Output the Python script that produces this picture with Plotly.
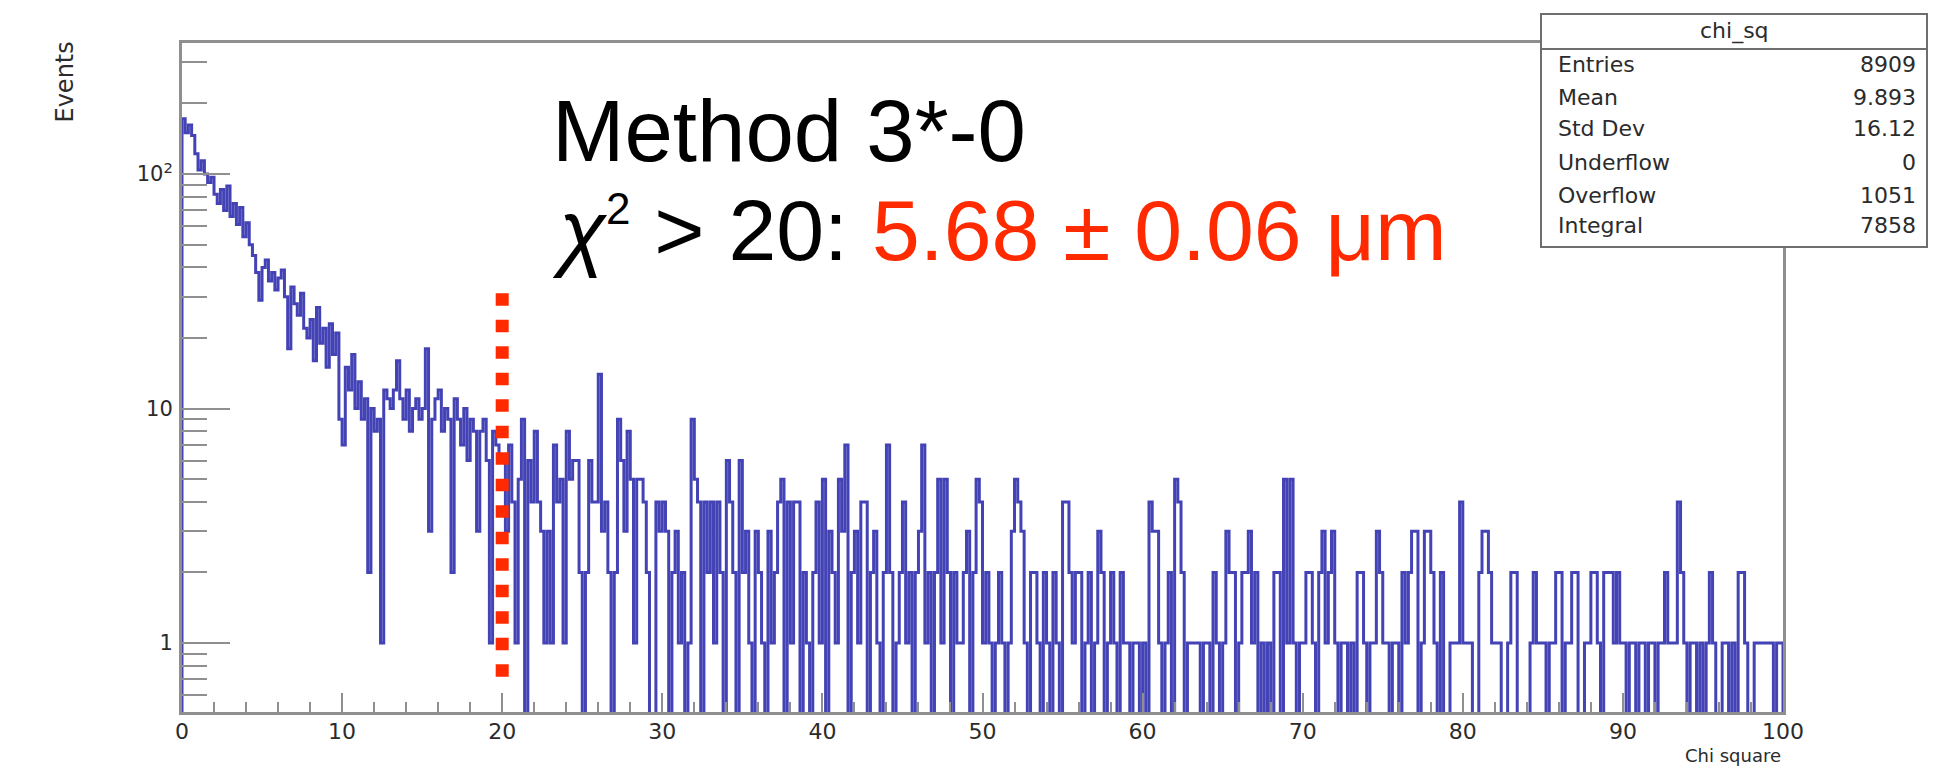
import plotly.graph_objects as go

# ---------------- data ----------------
bin_width = 0.2          # 500 bins between 0 and 100
x_start = 0.0

counts_00_10 = [172, 150, 162, 146, 122, 104, 114, 100, 92, 97,
                82, 75, 86, 70, 89, 66, 75, 61, 72, 54,
                62, 50, 45, 38, 29, 40, 43, 35, 38, 32,
                36, 39, 30, 18, 33, 28, 25, 31, 22, 20,
                24, 16, 27, 19, 22, 15, 23, 17, 21, 9]
counts_10_20 = [7, 15, 12, 17, 10, 13, 9, 11, 2, 10,
                8, 9, 1, 12, 11, 10, 12, 16, 11, 9,
                12, 8, 10, 11, 9, 10, 18, 3, 9, 11,
                12, 8, 10, 9, 2, 11, 9, 7, 10, 6,
                9, 8, 3, 8, 9, 6, 1, 8, 7, 6]
counts_20_30 = [6, 3, 7, 4, 1, 5, 9, 0, 6, 4,
                8, 4, 3, 1, 3, 1, 7, 4, 5, 1,
                8, 5, 6, 6, 2, 0, 2, 6, 4, 4,
                14, 3, 4, 2, 0, 2, 9, 6, 3, 8,
                5, 1, 5, 5, 4, 2, 0, 0, 4, 3]
counts_30_40 = [4, 3, 0, 2, 3, 1, 2, 0, 1, 9,
                5, 4, 0, 4, 2, 4, 1, 4, 2, 0,
                6, 4, 2, 0, 6, 2, 3, 1, 0, 3,
                2, 1, 0, 3, 1, 2, 4, 5, 0, 4,
                1, 4, 4, 0, 2, 1, 0, 2, 4, 1]
counts_40_50 = [5, 0, 3, 2, 1, 5, 3, 7, 0, 2,
                3, 1, 4, 4, 0, 2, 3, 1, 0, 2,
                7, 2, 0, 1, 2, 4, 1, 2, 0, 2,
                3, 7, 1, 2, 0, 2, 5, 1, 5, 2,
                0, 2, 1, 1, 2, 3, 0, 2, 5, 4]
counts_50_60 = [1, 2, 1, 0, 1, 2, 1, 0, 1, 3,
                5, 4, 3, 1, 0, 2, 2, 1, 0, 2,
                1, 0, 2, 1, 0, 4, 4, 2, 1, 2,
                2, 0, 1, 2, 0, 1, 3, 2, 0, 1,
                2, 1, 0, 2, 1, 1, 0, 1, 1, 0]
counts_60_70 = [1, 0, 4, 3, 3, 1, 0, 1, 2, 0,
                5, 4, 2, 0, 1, 1, 1, 1, 0, 1,
                1, 0, 2, 1, 0, 1, 3, 2, 2, 0,
                1, 2, 2, 3, 1, 2, 0, 1, 0, 1,
                0, 2, 2, 0, 5, 1, 5, 1, 0, 1]
counts_70_80 = [1, 2, 2, 1, 0, 2, 3, 1, 2, 3,
                1, 0, 1, 1, 0, 1, 0, 2, 2, 1,
                0, 1, 1, 3, 2, 1, 1, 0, 1, 1,
                0, 2, 1, 2, 3, 3, 0, 1, 3, 3,
                2, 1, 0, 2, 0, 0, 1, 1, 1, 4]
counts_80_90 = [1, 1, 1, 0, 0, 2, 3, 3, 2, 1,
                1, 1, 0, 0, 1, 2, 2, 0, 0, 0,
                0, 1, 2, 1, 1, 1, 0, 1, 1, 2,
                2, 0, 1, 1, 2, 2, 0, 0, 1, 1,
                2, 2, 1, 0, 2, 2, 2, 1, 2, 1]
counts_90_100 = [1, 0, 1, 1, 0, 1, 1, 0, 1, 1,
                 0, 1, 1, 2, 1, 1, 1, 4, 2, 1,
                 0, 1, 1, 0, 1, 0, 1, 2, 1, 0,
                 0, 1, 1, 0, 1, 0, 2, 2, 1, 0,
                 0, 1, 1, 1, 1, 1, 1, 0, 1, 1]

x_tick_values = [0, 10, 20, 30, 40, 50, 60, 70, 80, 90, 100]
y_tick_values = [1, 10, 100]
y_tick_labels = ["1", "10", "10<sup>2</sup>"]

cut_value = 20
cut_line_y = [31.0, 0.637]

stats_title = "chi_sq"
stats_names = ["Entries", "Mean", "Std Dev", "Underflow", "Overflow", "Integral"]
stats_values = ["8909", "9.893", "16.12", "0", "1051", "7858"]

# ---------------- build histogram outline ----------------
counts = (counts_00_10 + counts_10_20 + counts_20_30 + counts_30_40 + counts_40_50 +
          counts_50_60 + counts_60_70 + counts_70_80 + counts_80_90 + counts_90_100)
FLOOR = 0.1  # empty bins drawn down past the bottom of the log axis
xs = [x_start]
ys = [FLOOR]
for i, c in enumerate(counts):
    xs.append(round(x_start + i * bin_width, 4))
    ys.append(c if c > 0 else FLOOR)
xs.append(round(x_start + len(counts) * bin_width, 4))
ys.append(counts[-1] if counts[-1] > 0 else FLOOR)
xs.append(xs[-1])
ys.append(FLOOR)

W, H = 1942, 770
L, R, T, B = 182, 1783, 43, 712
def px(x):
    return (x - L) / (R - L)
def py(y):
    return (B - y) / (B - T)

ROOT_FONT = "DejaVu Sans"
TXT = "#2b2b2b"
AXC = "#8f8f8f"

fig = go.Figure()
fig.add_trace(go.Scatter(
    x=xs, y=ys, mode="lines",
    line=dict(color="rgba(14,14,160,0.78)", width=3.0, shape="hv"),
    hoverinfo="skip", showlegend=False))
fig.add_trace(go.Scatter(
    x=[cut_value, cut_value], y=cut_line_y, mode="lines",
    line=dict(color="#ff2a00", width=13, dash="12.5px,14px"),
    hoverinfo="skip", showlegend=False))

minor_y = [0.6, 0.7, 0.8, 0.9] + [k for k in range(2, 10)] + [10 * k for k in range(2, 10)] + [200, 300]

fig.update_layout(
    width=W, height=H, autosize=False,
    margin=dict(l=L, r=W - R, t=T, b=H - B, pad=0),
    paper_bgcolor="white", plot_bgcolor="white",
    font=dict(family=ROOT_FONT, size=22, color=TXT),
    showlegend=False,
    xaxis=dict(
        range=[0, 100], tickmode="array", tickvals=x_tick_values,
        ticks="inside", ticklen=19, tickwidth=2, tickcolor=AXC,
        minor=dict(dtick=2, tick0=0, ticks="inside", ticklen=10, tickwidth=2, tickcolor=AXC),
        showline=True, linecolor=AXC, linewidth=3, mirror=True,
        showgrid=False, zeroline=False,
        tickfont=dict(family=ROOT_FONT, size=22, color=TXT),
        ticklabelstandoff=-2,
    ),
    yaxis=dict(
        type="log", range=[-0.294, 2.559],
        tickmode="array", tickvals=y_tick_values, ticktext=y_tick_labels,
        ticks="inside", ticklen=48, tickwidth=2, tickcolor=AXC,
        minor=dict(tickmode="array", tickvals=minor_y, ticks="inside",
                   ticklen=25, tickwidth=2, tickcolor=AXC),
        showline=True, linecolor=AXC, linewidth=3, mirror=True,
        showgrid=False, zeroline=False,
        tickfont=dict(family=ROOT_FONT, size=21, color=TXT),
        ticklabelstandoff=2,
    ),
)

# stats box
bx0, bx1, by0, by1, bhead = 1541, 1927, 14, 247, 49
fig.add_shape(type="rect", xref="paper", yref="paper",
              x0=px(bx0), x1=px(bx1), y0=py(by1), y1=py(by0),
              fillcolor="white", line=dict(color="#6e6e6e", width=2), layer="above")
fig.add_shape(type="line", xref="paper", yref="paper",
              x0=px(bx0), x1=px(bx1), y0=py(bhead), y1=py(bhead),
              line=dict(color="#6e6e6e", width=2), layer="above")

annotations = []
annotations.append(dict(text=stats_title, x=px((bx0 + bx1) / 2), y=py(31),
                        xanchor="center", yanchor="middle",
                        font=dict(family=ROOT_FONT, size=22, color=TXT)))
row_y = [65, 97, 129, 162, 195, 225]
for name, val, yy in zip(stats_names, stats_values, row_y):
    annotations.append(dict(text=name, x=px(1556), y=py(yy), xanchor="left", yanchor="middle",
                            font=dict(family=ROOT_FONT, size=22, color=TXT)))
    annotations.append(dict(text=val, x=px(1918), y=py(yy), xanchor="right", yanchor="middle",
                            font=dict(family=ROOT_FONT, size=22, color=TXT)))

# axis titles
annotations.append(dict(text="Events", textangle=-90, x=px(64), y=py(40),
                        xanchor="center", yanchor="top",
                        font=dict(family=ROOT_FONT, size=24, color=TXT)))
annotations.append(dict(text="Chi square", x=px(1783), y=py(756),
                        xanchor="right", yanchor="middle",
                        font=dict(family=ROOT_FONT, size=18, color=TXT)))

# slide annotations
annotations.append(dict(text="Method 3*-0", x=px(550), y=py(130),
                        xanchor="left", yanchor="middle",
                        font=dict(family="Liberation Sans", size=87, color="black")))
annotations.append(dict(
    text="<i>χ</i><sup><span style='font-size:44px'>2</span></sup> &gt; 20: "
         "<span style='color:#ff2a00'>5.68 ± 0.06 μm</span>",
    x=px(550), y=py(230), xanchor="left", yanchor="middle",
    font=dict(family="Liberation Sans", size=86, color="black")))

for a in annotations:
    a.update(xref="paper", yref="paper", showarrow=False)
fig.update_layout(annotations=annotations)

fig.write_html("out.html")
